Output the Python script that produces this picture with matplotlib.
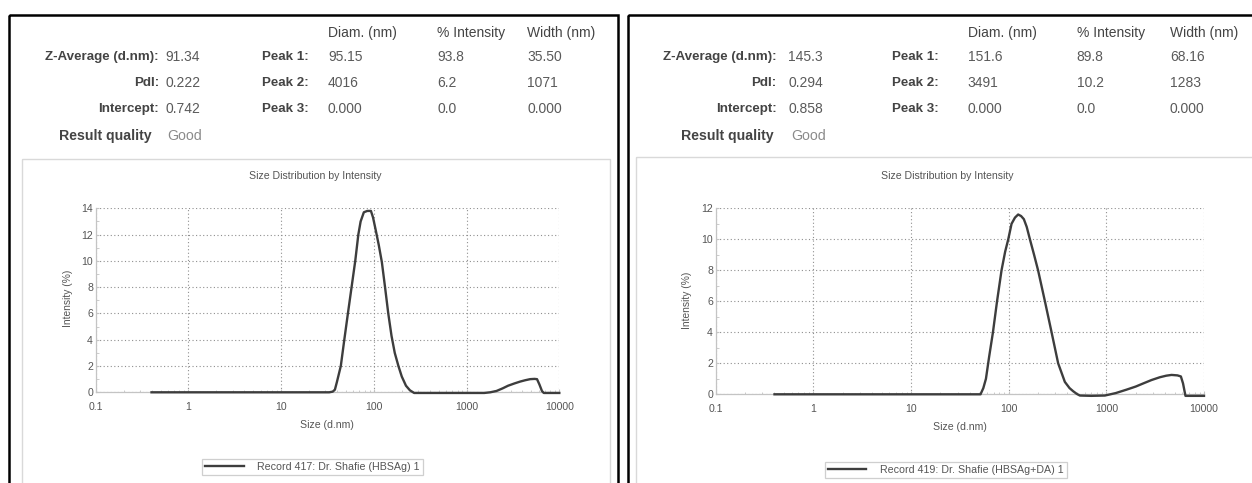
import matplotlib
matplotlib.use("Agg")
import matplotlib.pyplot as plt
from matplotlib.patches import Rectangle
from matplotlib.ticker import FixedLocator, FixedFormatter, LogLocator, NullFormatter

plt.rcParams['font.family'] = ['Liberation Sans', 'DejaVu Sans']

# ---------------- data ----------------
x_ticks = [0.1, 1, 10, 100, 1000, 10000]
x_tick_labels = ["0.1", "1", "10", "100", "1000", "10000"]

# Record 417 (HBSAg)
left_size = [0.4, 1, 10, 33, 36, 38, 40, 44, 48, 52.5, 57.5, 63, 68, 72, 78, 85, 93,
             98, 105, 113, 122, 132, 143, 155, 168, 184, 200, 222, 245, 272,
             1000, 1550, 1800, 2100, 2450, 2800, 3300, 3800, 4300, 4850, 5400, 5750,
             6100, 6500, 6800, 10000]
left_int = [0, 0, 0, 0, 0.05, 0.2, 0.8, 2.0, 4.0, 6.0, 8.0, 10.0, 12.0, 13.0, 13.7, 13.8, 13.8,
            13.3, 12.3, 11.2, 9.9, 8.0, 6.0, 4.3, 3.0, 2.0, 1.2, 0.5, 0.15, -0.05,
            -0.05, -0.05, 0.0, 0.1, 0.3, 0.5, 0.68, 0.82, 0.92, 1.0, 1.02, 1.0,
            0.6, 0.1, -0.05, -0.05]
left_legend = "Record 417: Dr. Shafie (HBSAg) 1"
left_yticks = [0, 2, 4, 6, 8, 10, 12, 14]

# Record 419 (HBSAg+DA)
right_size = [0.4, 1, 10, 51.5, 55, 58.5, 63, 69, 76, 84.5, 92, 99, 107, 116, 125, 134, 143,
              153, 165, 182, 200, 235, 275, 321, 376, 420, 457, 500, 536,
              700, 966, 1250, 1610, 2000, 2384, 2900, 3530, 4100, 4650, 5350,
              5800, 6100, 6460, 10000]
right_int = [0, 0, 0, 0, 0.4, 1.0, 2.4, 4.0, 6.0, 8.0, 9.2, 10.0, 11.0, 11.4, 11.6, 11.5, 11.3,
             10.8, 10.0, 9.0, 8.0, 6.0, 4.0, 2.0, 0.8, 0.4, 0.2, 0.02, -0.08,
             -0.1, -0.08, 0.08, 0.3, 0.5, 0.7, 0.92, 1.1, 1.2, 1.25, 1.22,
             1.15, 0.7, -0.1, -0.1]
right_legend = "Record 419: Dr. Shafie (HBSAg+DA) 1"
right_yticks = [0, 2, 4, 6, 8, 10, 12]

left_table = {
    "rows": [("Z-Average (d.nm):", "91.34"), ("PdI:", "0.222"), ("Intercept:", "0.742")],
    "peaks": [("Peak 1:", "95.15", "93.8", "35.50"),
              ("Peak 2:", "4016", "6.2", "1071"),
              ("Peak 3:", "0.000", "0.0", "0.000")],
    "quality": "Good",
}
right_table = {
    "rows": [("Z-Average (d.nm):", "145.3"), ("PdI:", "0.294"), ("Intercept:", "0.858")],
    "peaks": [("Peak 1:", "151.6", "89.8", "68.16"),
              ("Peak 2:", "3491", "10.2", "1283"),
              ("Peak 3:", "0.000", "0.0", "0.000")],
    "quality": "Good",
}
col_headers = ["Diam. (nm)", "% Intensity", "Width (nm)"]

# ---------------- figure ----------------
W, H = 1252, 483
fig = plt.figure(figsize=(W / 100, H / 100), dpi=100)
fig.patch.set_facecolor("white")

bg = fig.add_axes([0, 0, 1, 1], zorder=0)
bg.set_xlim(0, W)
bg.set_ylim(H, 0)
bg.axis("off")

# panel borders
bg.add_patch(Rectangle((8.7, 15), 618.3 - 8.7, 490 - 15, fill=False, ec="black", lw=1.8, clip_on=False))
bg.add_patch(Rectangle((627.7, 15), 1270 - 627.7, 490 - 15, fill=False, ec="black", lw=1.8, clip_on=False))
# inner chart frames
bg.add_patch(Rectangle((21.7, 159), 610 - 21.7, 490 - 159, fill=False, ec="#d9d9d9", lw=1.0, clip_on=False))
bg.add_patch(Rectangle((636, 157), 1270 - 636, 490 - 157, fill=False, ec="#d9d9d9", lw=1.0, clip_on=False))

LABEL_C = "#444444"
VAL_C = "#5a5a5a"
FS = 10


def header(tbl, lab_r, val_l, peak_r, cols, rq_r, good_l):
    ys = [57, 83, 109]
    bg.text(cols[0], 33, col_headers[0], ha="left", va="center", fontsize=FS, color=LABEL_C)
    bg.text(cols[1], 33, col_headers[1], ha="left", va="center", fontsize=FS, color=LABEL_C)
    bg.text(cols[2], 33, col_headers[2], ha="left", va="center", fontsize=FS, color=LABEL_C)
    for y, (lab, val) in zip(ys, tbl["rows"]):
        bg.text(lab_r, y, lab, ha="right", va="center", fontsize=9.6, color=LABEL_C, fontweight="bold")
        bg.text(val_l, y, val, ha="left", va="center", fontsize=FS, color=VAL_C)
    for y, (lab, d, i, w) in zip(ys, tbl["peaks"]):
        bg.text(peak_r, y, lab, ha="right", va="center", fontsize=9.6, color=LABEL_C, fontweight="bold")
        bg.text(cols[0], y, d, ha="left", va="center", fontsize=FS, color=VAL_C)
        bg.text(cols[1], y, i, ha="left", va="center", fontsize=FS, color=VAL_C)
        bg.text(cols[2], y, w, ha="left", va="center", fontsize=FS, color=VAL_C)
    bg.text(rq_r, 136, "Result quality", ha="right", va="center", fontsize=10.2, color=LABEL_C, fontweight="bold")
    bg.text(good_l, 136, tbl["quality"], ha="left", va="center", fontsize=10.2, color="#8a8a8a")


header(left_table, 159, 165, 309, [328, 437, 527], 152, 167)
header(right_table, 776.7, 788.3, 939, [967.7, 1076.7, 1170], 774, 791)

TXT_C = "#555555"
SFS = 7.6


def make_plot(rect, sizes, vals, yticks, legend_label, title_xy, xlab_xy, ylab_xy, leg_center):
    ax = fig.add_axes(rect, zorder=2)
    ax.set_facecolor("none")
    ax.set_xscale("log")
    ax.set_xlim(0.1, 10000)
    ax.set_ylim(0, yticks[-1])
    ax.plot(sizes, vals, color="#3d3d3d", lw=1.7, clip_on=False, label=legend_label, zorder=3,
            solid_joinstyle="round")
    ax.xaxis.set_major_locator(FixedLocator(x_ticks))
    ax.xaxis.set_major_formatter(FixedFormatter(x_tick_labels))
    ax.xaxis.set_minor_locator(LogLocator(base=10, subs=range(2, 10)))
    ax.xaxis.set_minor_formatter(NullFormatter())
    ax.set_yticks(yticks)
    ax.set_yticks([v + 1 for v in yticks[:-1]], minor=True)
    ax.grid(True, which="major", color="#8f8f8f", lw=0.8, linestyle=(0, (1, 2.2)))
    for s in ["top", "right"]:
        ax.spines[s].set_visible(False)
    for s in ["left", "bottom"]:
        ax.spines[s].set_color("#c4c4c4")
        ax.spines[s].set_linewidth(0.9)
    ax.tick_params(axis="both", which="major", direction="in", length=2.5, color="#c4c4c4",
                   labelsize=SFS, labelcolor=TXT_C)
    ax.tick_params(axis="x", which="major", pad=7)
    ax.tick_params(axis="y", which="major", pad=2)
    ax.tick_params(axis="both", which="minor", direction="in", length=1.8, color="#c4c4c4")
    ax.set_title("Size Distribution by Intensity", fontsize=SFS, color=TXT_C,
                 x=title_xy[0], y=title_xy[1], pad=0, va="center")
    ax.set_xlabel("Size (d.nm)", fontsize=SFS, color=TXT_C)
    ax.xaxis.set_label_coords(*xlab_xy)
    ax.xaxis.label.set_va("center")
    ax.set_ylabel("Intensity (%)", fontsize=SFS - 0.2, color=TXT_C)
    ax.yaxis.set_label_coords(*ylab_xy)
    ax.yaxis.label.set_va("center")
    leg = ax.legend(loc="center", bbox_to_anchor=leg_center, bbox_transform=fig.transFigure,
                    fontsize=7.7, frameon=True, fancybox=False, edgecolor="#cfcfcf",
                    framealpha=1, handlelength=3.6, handletextpad=1.3, borderpad=0.3,
                    borderaxespad=0)
    for t in leg.get_texts():
        t.set_color(TXT_C)
    leg.get_frame().set_linewidth(0.9)
    return ax


make_plot([95.7 / W, 1 - 392.3 / H, (559.3 - 95.7) / W, (392.3 - 208.3) / H],
          left_size, left_int, left_yticks, left_legend,
          (0.4745, 1.1755), (0.499, -0.178), (-0.0597, 0.5125), (312.5 / W, 1 - 467 / H))
make_plot([715.7 / W, 1 - 394.3 / H, (1204 - 715.7) / W, (394.3 - 208.3) / H],
          right_size, right_int, right_yticks, right_legend,
          (0.4737, 1.1737), (0.5, -0.174), (-0.0594, 0.507), (946 / W, 1 - 470 / H))

fig.savefig("out.png", dpi=100, facecolor="white")
